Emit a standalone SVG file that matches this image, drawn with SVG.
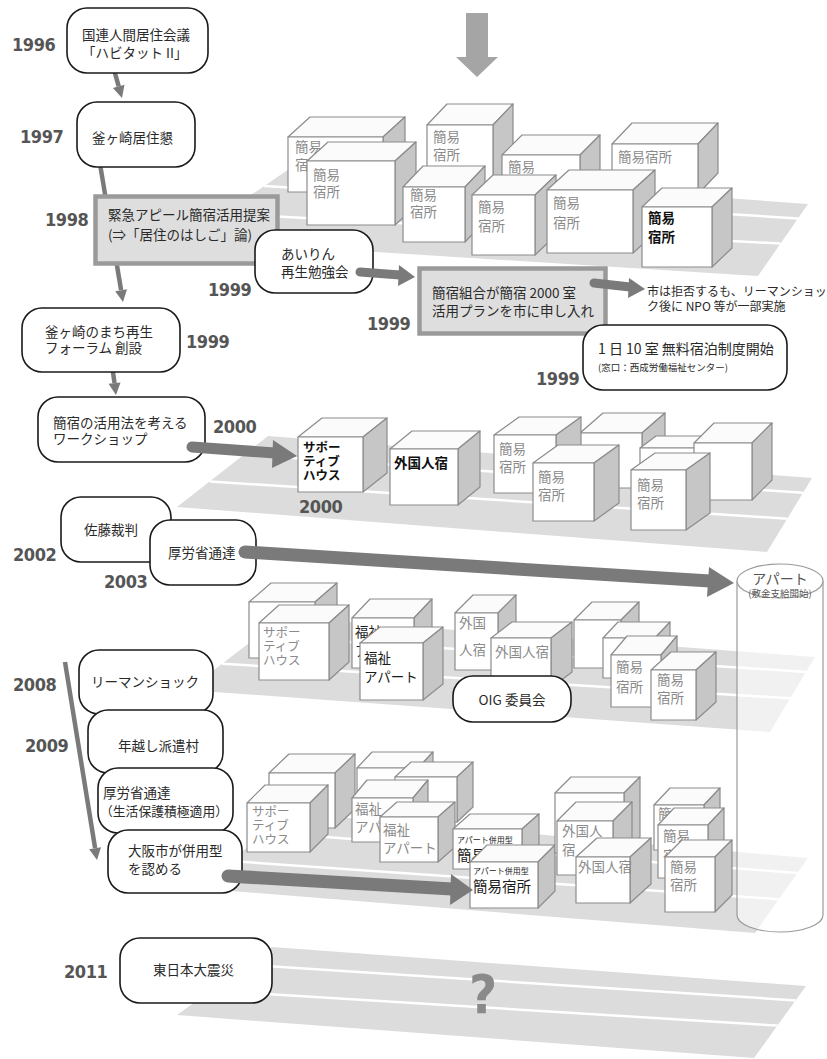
<svg xmlns="http://www.w3.org/2000/svg" width="827" height="1059" viewBox="0 0 827 1059">
<style>
.pf{fill:#dcdcdc}
.wl{stroke:#fff;stroke-width:2.5;fill:none}
.cf{fill:#fff;stroke:#8c8c8c;stroke-width:1.2;stroke-linejoin:round}
.ct{fill:#fbfbfb;stroke:#8c8c8c;stroke-width:1.2;stroke-linejoin:round}
.cs{fill:#c6c6c6;stroke:#8c8c8c;stroke-width:1.2;stroke-linejoin:round}
.lg{font-family:'Noto Sans CJK JP',sans-serif;font-size:13.5px;fill:#8a8a8a}
.lb{font-family:'Noto Sans CJK JP',sans-serif;font-size:13.5px;fill:#111;font-weight:700}
.lk{font-family:'Noto Sans CJK JP',sans-serif;font-size:13.5px;fill:#1a1a1a}
.l3{font-size:12.5px}
.nb{fill:#fff;stroke:#1a1a1a;stroke-width:1.6}
.gb{fill:#dedede;stroke:#9a9a9a;stroke-width:4.5}
.nt{font-family:'Noto Sans CJK JP',sans-serif;font-size:13.5px;fill:#2a2a2a}
.yr{font-family:'DejaVu Sans Condensed','DejaVu Sans',sans-serif;font-stretch:condensed;font-weight:700;font-size:18px;letter-spacing:-0.4px;fill:#555}
.ta{stroke:#7a7a7a;stroke-width:4.5;fill:none}
.th{stroke:#7a7a7a;fill:none;stroke-linecap:round}
.ah{fill:#7a7a7a}
</style>

<g id="platforms">
<polygon class="pf" points="292,167 808,204 758,276 185,240"/>
<line class="wl" x1="264.2" y1="186" x2="798" y2="218.4"/>
<line class="wl" x1="223.5" y1="213.7" x2="780.5" y2="243.6"/>
<polygon class="pf" points="268,436 812,478 767,552 177,507"/>
<line class="wl" x1="244.3" y1="454.5" x2="803" y2="492.8"/>
<line class="wl" x1="209.8" y1="481.4" x2="787.3" y2="518.7"/>
<polygon class="pf" points="283,617 815,657 770,732 188,690"/>
<line class="wl" x1="258.3" y1="636" x2="806" y2="672"/>
<line class="wl" x1="222.2" y1="663.7" x2="790.3" y2="698.3"/>
<polygon class="pf" points="292,813 808,858 755,933 195,888"/>
<line class="wl" x1="266.8" y1="832.5" x2="797.4" y2="873"/>
<line class="wl" x1="229.9" y1="861" x2="778.9" y2="899.3"/>
<polygon class="pf" points="272,947 806,986 754,1058 177,1015"/>
<line class="wl" x1="247.3" y1="964.7" x2="795.6" y2="1000.4"/>
<line class="wl" x1="211.2" y1="990.5" x2="777.4" y2="1025.6"/>
<text x="483" y="1013" text-anchor="middle" style="font-family:'DejaVu Sans Condensed','DejaVu Sans',sans-serif;font-stretch:condensed;font-weight:700;font-size:54px;fill:#8a8a8a">?</text>
</g>

<g id="apart-cylinder">
<path d="M737,581 L737,915 A43,17 0 0 0 823,915 L823,581" fill="#fff" fill-opacity="0.6" stroke="#9a9a9a" stroke-width="1.2"/>
<ellipse cx="780" cy="581" rx="43" ry="17" fill="#fff" stroke="#9a9a9a" stroke-width="1.2"/>
<text x="780" y="584" text-anchor="middle" style="font-family:'Noto Sans CJK JP',sans-serif;font-size:14px;fill:#555">アパート</text>
<text x="780" y="597" text-anchor="middle" style="font-family:'Noto Sans CJK JP',sans-serif;font-size:9.5px;fill:#555">(敷金支給開始)</text>
</g>

<g id="top-arrow">
<polygon points="466,13 488,13 488,57 498,57 477,77 456,57 466,57" fill="#a5a5a5"/>
</g>

<g id="cubes-1999">
<g id="c1a"><polygon class="ct" points="288,137 310,117 405,117 383,137"/><polygon class="cs" points="383,137 405,117 405,172 383,192"/><rect class="cf" x="288" y="137" width="95" height="55"/><text class="lg" x="295" y="152">簡易</text><text class="lg" x="295" y="170">宿所</text></g>
<g id="c1c"><polygon class="ct" points="427,125 447,104 513,104 493,125"/><polygon class="cs" points="493,125 513,104 513,174 493,195"/><rect class="cf" x="427" y="125" width="66" height="70"/><text class="lg" x="433" y="142">簡易</text><text class="lg" x="433" y="160">宿所</text></g>
<g id="c1h"><polygon class="ct" points="612,144 632,123 718,123 698,144"/><polygon class="cs" points="698,144 718,123 718,173 698,194"/><rect class="cf" x="612" y="144" width="86" height="50"/><text class="lg" x="618" y="162">簡易宿所</text></g>
<g id="c1e"><polygon class="ct" points="502,155 522,135 600,135 580,155"/><polygon class="cs" points="580,155 600,135 600,185 580,205"/><rect class="cf" x="502" y="155" width="78" height="50"/><text class="lg" x="508" y="172">簡易</text></g>
<g id="c1b"><polygon class="ct" points="307,161 328,142 416,142 395,161"/><polygon class="cs" points="395,161 416,142 416,206 395,225"/><rect class="cf" x="307" y="161" width="88" height="64"/><text class="lg" x="313" y="180">簡易</text><text class="lg" x="313" y="197">宿所</text></g>
<g id="c1d"><polygon class="ct" points="403,187 423,166 485,166 465,187"/><polygon class="cs" points="465,187 485,166 485,221 465,242"/><rect class="cf" x="403" y="187" width="62" height="55"/><text class="lg" x="410" y="200">簡易</text><text class="lg" x="410" y="217">宿所</text></g>
<g id="c1f"><polygon class="ct" points="472,195 493,175 556,175 535,195"/><polygon class="cs" points="535,195 556,175 556,235 535,255"/><rect class="cf" x="472" y="195" width="63" height="60"/><text class="lg" x="478" y="212">簡易</text><text class="lg" x="478" y="231">宿所</text></g>
<g id="c1g"><polygon class="ct" points="547,190 569,170 655,170 633,190"/><polygon class="cs" points="633,190 655,170 655,233 633,253"/><rect class="cf" x="547" y="190" width="86" height="63"/><text class="lg" x="553" y="208">簡易</text><text class="lg" x="553" y="228">宿所</text></g>
<g id="c1i"><polygon class="ct" points="642,207 662,188 732,188 712,207"/><polygon class="cs" points="712,207 732,188 732,248 712,267"/><rect class="cf" x="642" y="207" width="70" height="60"/><text class="lb" x="648" y="223">簡易</text><text class="lb" x="648" y="242">宿所</text></g>
</g>

<g id="cubes-2000">
<g id="c2l2"><polygon class="ct" points="580,433 603,413 665,413 642,433"/><polygon class="cs" points="642,433 665,413 665,468 642,488"/><rect class="cf" x="580" y="433" width="62" height="55"/></g>
<g id="c2l1"><polygon class="ct" points="494,435 519,417 581,417 556,435"/><polygon class="cs" points="556,435 581,417 581,475 556,493"/><rect class="cf" x="494" y="435" width="62" height="58"/><text class="lg" x="499" y="454">簡易</text><text class="lg" x="499" y="472">宿所</text></g>
<g id="c2l4"><polygon class="ct" points="640,448 656,436 711,436 695,448"/><polygon class="cs" points="695,448 711,436 711,481 695,493"/><rect class="cf" x="640" y="448" width="55" height="45"/></g>
<g id="c2l5"><polygon class="ct" points="694,443 714,423 772,423 752,443"/><polygon class="cs" points="752,443 772,423 772,480 752,500"/><rect class="cf" x="694" y="443" width="58" height="57"/></g>
<g id="c2s"><polygon class="ct" points="298,437 322,418 387,418 363,437"/><polygon class="cs" points="363,437 387,418 387,473 363,492"/><rect class="cf" x="298" y="437" width="65" height="55"/><text class="lb l3" x="303" y="452">サポー</text><text class="lb l3" x="303" y="466">ティブ</text><text class="lb l3" x="303" y="480">ハウス</text></g>
<g id="c2k"><polygon class="ct" points="390,449 412,431 480,431 458,449"/><polygon class="cs" points="458,449 480,431 480,487 458,505"/><rect class="cf" x="390" y="449" width="68" height="56"/><text class="lb" x="394" y="468">外国人宿</text></g>
<g id="c2l3"><polygon class="ct" points="533,463 558,445 619,445 594,463"/><polygon class="cs" points="594,463 619,445 619,503 594,521"/><rect class="cf" x="533" y="463" width="61" height="58"/><text class="lg" x="538" y="482">簡易</text><text class="lg" x="538" y="500">宿所</text></g>
<g id="c2l6"><polygon class="ct" points="631,470 655,453 710,453 686,470"/><polygon class="cs" points="686,470 710,453 710,513 686,530"/><rect class="cf" x="631" y="470" width="55" height="60"/><text class="lg" x="637" y="490">簡易</text><text class="lg" x="637" y="508">宿所</text></g>
</g>

<g id="cubes-2008">
<g id="c3p1"><polygon class="ct" points="249,602 271,583 337,583 315,602"/><polygon class="cs" points="315,602 337,583 337,639 315,658"/><rect class="cf" x="249" y="602" width="66" height="56"/></g>
<g id="c3p2"><polygon class="ct" points="259,623 279,605 349,605 329,623"/><polygon class="cs" points="329,623 349,605 349,662 329,680"/><rect class="cf" x="259" y="623" width="70" height="57"/><text class="lg l3" x="263" y="637">サポー</text><text class="lg l3" x="263" y="651">ティブ</text><text class="lg l3" x="263" y="665">ハウス</text></g>
<g id="c3p3"><polygon class="ct" points="352,618 370,599 432,599 414,618"/><polygon class="cs" points="414,618 432,599 432,649 414,668"/><rect class="cf" x="352" y="618" width="62" height="50"/><text class="lk" x="355" y="637">福祉</text><text class="lk" x="355" y="656">アパート</text></g>
<g id="c3p4"><polygon class="ct" points="360,643 380,627 443,627 423,643"/><polygon class="cs" points="423,643 443,627 443,684 423,700"/><rect class="cf" x="360" y="643" width="63" height="57"/><text class="lk" x="364" y="663">福祉</text><text class="lk" x="364" y="682">アパート</text></g>
<g id="c3p5"><polygon class="ct" points="455,613 473,595 516,595 498,613"/><polygon class="cs" points="498,613 516,595 516,652 498,670"/><rect class="cf" x="455" y="613" width="43" height="57"/><text class="lg" x="459" y="628">外国</text><text class="lg" x="459" y="655">人宿</text></g>
<g id="c3p6"><polygon class="ct" points="491,638 512,622 572,622 551,638"/><polygon class="cs" points="551,638 572,622 572,672 551,688"/><rect class="cf" x="491" y="638" width="60" height="50"/><text class="lg" x="495" y="657">外国人宿</text></g>
<g id="c3p7"><polygon class="ct" points="574,620 592,602 639,602 621,620"/><polygon class="cs" points="621,620 639,602 639,650 621,668"/><rect class="cf" x="574" y="620" width="47" height="48"/></g>
<g id="c3p8"><polygon class="ct" points="603,638 618,622 670,622 655,638"/><polygon class="cs" points="655,638 670,622 670,662 655,678"/><rect class="cf" x="603" y="638" width="52" height="40"/></g>
<g id="c3p9"><polygon class="ct" points="611,655 627,636 677,636 661,655"/><polygon class="cs" points="661,655 677,636 677,688 661,707"/><rect class="cf" x="611" y="655" width="50" height="52"/><text class="lg" x="616" y="672">簡易</text><text class="lg" x="616" y="692">宿所</text></g>
<g id="c3p10"><polygon class="ct" points="651,670 671,652 716,652 696,670"/><polygon class="cs" points="696,670 716,652 716,702 696,720"/><rect class="cf" x="651" y="670" width="45" height="50"/><text class="lg" x="657" y="685">簡易</text><text class="lg" x="657" y="703">宿所</text></g>
</g>

<g id="cubes-2009">
<g id="c4q1"><polygon class="ct" points="269,773 289,754 355,754 335,773"/><polygon class="cs" points="335,773 355,754 355,809 335,828"/><rect class="cf" x="269" y="773" width="66" height="55"/></g>
<g id="c4q2"><polygon class="ct" points="247,803 265,785 328,785 310,803"/><polygon class="cs" points="310,803 328,785 328,834 310,852"/><rect class="cf" x="247" y="803" width="63" height="49"/><text class="lg l3" x="252" y="816">サポー</text><text class="lg l3" x="252" y="830">ティブ</text><text class="lg l3" x="252" y="844">ハウス</text></g>
<g id="c4q3"><polygon class="ct" points="357,768 372,752 433,752 418,768"/><polygon class="cs" points="418,768 433,752 433,792 418,808"/><rect class="cf" x="357" y="768" width="61" height="40"/></g>
<g id="c4q4"><polygon class="ct" points="395,777 411,762 473,762 457,777"/><polygon class="cs" points="457,777 473,762 473,807 457,822"/><rect class="cf" x="395" y="777" width="62" height="45"/></g>
<g id="c4q5"><polygon class="ct" points="352,798 367,780 428,780 413,798"/><polygon class="cs" points="413,798 428,780 428,824 413,842"/><rect class="cf" x="352" y="798" width="61" height="44"/><text class="lg" x="355" y="814">福祉</text><text class="lg" x="355" y="832">アパート</text></g>
<g id="c4q6"><polygon class="ct" points="380,817 397,802 455,802 438,817"/><polygon class="cs" points="438,817 455,802 455,847 438,862"/><rect class="cf" x="380" y="817" width="58" height="45"/><text class="lg" x="383" y="835">福祉</text><text class="lg" x="383" y="853">アパート</text></g>
<g id="c4q7"><polygon class="ct" points="453,829 470,814 539,814 522,829"/><polygon class="cs" points="522,829 539,814 539,854 522,869"/><rect class="cf" x="453" y="829" width="69" height="40"/><text class="lk" x="457" y="843" style="font-size:8px">アパート併用型</text><text class="lk" x="457" y="861" style="font-size:14.5px">簡易宿所</text></g>
<g id="c4q8"><polygon class="ct" points="470,862 487,845 555,845 538,862"/><polygon class="cs" points="538,862 555,845 555,891 538,908"/><rect class="cf" x="470" y="862" width="68" height="46"/><text class="lk" x="473" y="874" style="font-size:8px">アパート併用型</text><text class="lk" x="473" y="892" style="font-size:14.5px">簡易宿所</text></g>
<g id="c4q9"><polygon class="ct" points="555,793 571,777 640,777 624,793"/><polygon class="cs" points="624,793 640,777 640,837 624,853"/><rect class="cf" x="555" y="793" width="69" height="60"/></g>
<g id="c4q9b"><polygon class="ct" points="557,821 576,802 632,802 613,821"/><polygon class="cs" points="613,821 632,802 632,856 613,875"/><rect class="cf" x="557" y="821" width="56" height="54"/><text class="lg" x="562" y="836">外国人</text><text class="lg" x="562" y="855">宿</text></g>
<g id="c4q10"><polygon class="ct" points="576,857 597,838 651,838 630,857"/><polygon class="cs" points="630,857 651,838 651,884 630,903"/><rect class="cf" x="576" y="857" width="54" height="46"/><text class="lg" x="578" y="872">外国人宿</text></g>
<g id="c4q11"><polygon class="ct" points="654,805 670,788 720,788 704,805"/><polygon class="cs" points="704,805 720,788 720,833 704,850"/><rect class="cf" x="654" y="805" width="50" height="45"/><text class="lg" x="658" y="819">簡易</text></g>
<g id="c4q12"><polygon class="ct" points="658,825 674,808 724,808 708,825"/><polygon class="cs" points="708,825 724,808 724,861 708,878"/><rect class="cf" x="658" y="825" width="50" height="53"/><text class="lg" x="663" y="841">簡易</text><text class="lg" x="663" y="861">宿所</text></g>
<g id="c4q13"><polygon class="ct" points="665,857 682,840 732,840 715,857"/><polygon class="cs" points="715,857 732,840 732,895 715,912"/><rect class="cf" x="665" y="857" width="50" height="55"/><text class="lg" x="670" y="872">簡易</text><text class="lg" x="670" y="890">宿所</text></g>
</g>

<g id="connectors-thin">
<line class="ta" x1="113" y1="66" x2="118.7" y2="86.4"/><polygon class="ah" points="112.9,88 122,98 124.5,84.8"/>
<line class="ta" x1="100" y1="164" x2="121.1" y2="290.2"/><polygon class="ah" points="115.2,291.2 123,302 127,289.2"/>
<line class="ta" x1="112" y1="365" x2="114.5" y2="383"/><polygon class="ah" points="108.5,383.8 116,395 120.5,382.4"/>
<line class="ta" x1="65" y1="662" x2="95.1" y2="848.2"/><polygon class="ah" points="89.2,849.2 97,860 101,847.3"/>
</g>

<g id="n1996"><rect class="nb" x="67" y="8" width="141" height="65" rx="20"/><text class="nt" x="82" y="40">国連人間居住会議</text><text class="nt" x="82" y="58">「ハビタット II」</text></g>
<g id="n1997"><rect class="nb" x="77" y="102" width="118" height="65" rx="20"/><text class="nt" x="92" y="143">釜ヶ崎居住懇</text></g>
<g id="n1998"><rect class="gb" x="95.5" y="196.5" width="182" height="67"/><text class="nt" x="108" y="220">緊急アピール簡宿活用提案</text><text class="nt" x="108" y="240">(⇒「居住のはしご」論)</text></g>
<g id="nairin"><rect class="nb" x="255" y="230" width="118" height="63" rx="20"/><text class="nt" x="281" y="259">あいりん</text><text class="nt" x="281" y="277">再生勉強会</text></g>
<g id="nkumiai"><rect class="gb" x="419.5" y="268.5" width="186" height="65"/><text class="nt" x="432" y="298">簡宿組合が簡宿 2000 室</text><text class="nt" x="432" y="316">活用プランを市に申し入れ</text></g>
<g id="nresult"><text class="nt" x="647" y="296" style="font-size:12px">市は拒否するも、リーマンショッ</text><text class="nt" x="647" y="311" style="font-size:12px">ク後に NPO 等が一部実施</text></g>
<g id="nfree"><rect class="nb" x="583" y="325" width="204" height="65" rx="20"/><text class="nt" x="598" y="354" style="font-size:14px">1 日 10 室 無料宿泊制度開始</text><text class="nt" x="598" y="371" style="font-size:9.5px">(窓口：西成労働福祉センター)</text></g>
<g id="nforum"><rect class="nb" x="22" y="308" width="158" height="64" rx="20"/><text class="nt" x="45" y="337">釜ヶ崎のまち再生</text><text class="nt" x="45" y="353">フォーラム 創設</text></g>
<g id="nws"><rect class="nb" x="38" y="397" width="167" height="65" rx="20"/><text class="nt" x="53" y="428">簡宿の活用法を考える</text><text class="nt" x="53" y="444">ワークショップ</text></g>
<g id="nsato"><rect class="nb" x="61" y="497" width="110" height="65" rx="20"/><text class="nt" x="84" y="535">佐藤裁判</text></g>
<g id="nmhlw2003"><rect class="nb" x="150" y="520" width="106" height="65" rx="20"/><text class="nt" x="168" y="558">厚労省通達</text></g>
<g id="nlehman"><rect class="nb" x="79" y="650" width="134" height="64" rx="20"/><text class="nt" x="91" y="687">リーマンショック</text></g>
<g id="nhaken"><rect class="nb" x="88" y="710" width="135" height="63" rx="20"/><text class="nt" x="118" y="751">年越し派遣村</text></g>
<g id="nmhlw2009"><rect class="nb" x="98" y="768" width="135" height="65" rx="20"/><text class="nt" x="103" y="798">厚労省通達</text><text class="nt" x="100" y="816" style="font-size:12.8px">（生活保護積極適用）</text></g>
<g id="nosaka"><rect class="nb" x="108" y="830" width="134" height="63" rx="20"/><text class="nt" x="128" y="856">大阪市が併用型</text><text class="nt" x="128" y="874">を認める</text></g>
<g id="nquake"><rect class="nb" x="120" y="938" width="152" height="65" rx="20"/><text class="nt" x="153" y="975">東日本大震災</text></g>
<g id="noig"><rect class="nb" x="453" y="676" width="118" height="46" rx="20"/><text class="nt" x="512" y="705" text-anchor="middle">OIG  委員会</text></g>

<g id="connectors-thick">
<line class="th" x1="360" y1="272" x2="400" y2="275" stroke-width="9"/><polygon class="ah" points="399,265 415,277 398,286"/>
<line class="th" x1="594" y1="283" x2="630" y2="287" stroke-width="9"/><polygon class="ah" points="629,278 645,289 628,298"/>
<line class="th" x1="192" y1="447" x2="275" y2="453" stroke-width="11"/><polygon class="ah" points="273,440 297,456 272,468"/>
<line class="th" x1="245" y1="552" x2="710" y2="581" stroke-width="13"/><polygon class="ah" points="709,567 734,583 707,597"/>
<line class="th" x1="228" y1="876" x2="452" y2="889" stroke-width="13"/><polygon class="ah" points="451,874 473,890 450,905"/>
</g>

<g id="years">
<text class="yr" x="12" y="51">1996</text>
<text class="yr" x="20" y="143">1997</text>
<text class="yr" x="45" y="226">1998</text>
<text class="yr" x="208" y="296">1999</text>
<text class="yr" x="367" y="330">1999</text>
<text class="yr" x="536" y="385">1999</text>
<text class="yr" x="186" y="348">1999</text>
<text class="yr" x="213" y="433">2000</text>
<text class="yr" x="299" y="513">2000</text>
<text class="yr" x="13" y="561">2002</text>
<text class="yr" x="104" y="588">2003</text>
<text class="yr" x="13" y="691">2008</text>
<text class="yr" x="25" y="752">2009</text>
<text class="yr" x="64" y="978">2011</text>
</g>
</svg>
